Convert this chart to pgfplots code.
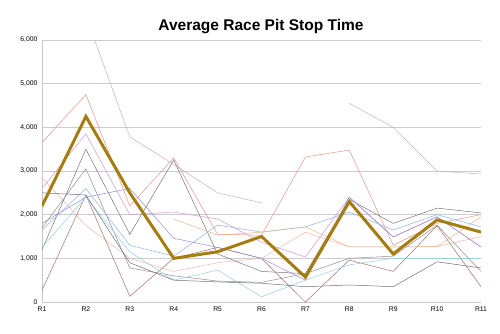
\documentclass[border=0pt]{standalone}
\usepackage{pgfplots}
\pgfplotsset{compat=1.18}
\usepackage{pgfplotstable}
\usepackage{fontspec}
\setmainfont{Liberation Sans}
\definecolor{gold}{RGB}{165,124,16}
\definecolor{cgrey}{RGB}{200,176,184}
\definecolor{cred}{RGB}{228,150,135}
\definecolor{csalmon}{RGB}{240,185,175}
\definecolor{cdark}{RGB}{120,120,120}
\definecolor{cdark2}{RGB}{150,140,140}
\definecolor{cbrown}{RGB}{170,110,100}
\definecolor{cviolet}{RGB}{210,150,220}
\definecolor{cpurple}{RGB}{150,140,225}
\definecolor{cblue}{RGB}{140,180,230}
\definecolor{clblue}{RGB}{150,205,230}
\definecolor{cslate}{RGB}{110,110,125}
\definecolor{ctan}{RGB}{225,185,140}
\pgfplotstableread{
x gold grey red salmon dk1 dk2 brown violet purple blue lblue slate tan
1 2200 nan 3650 2850 1200 1700 270 2600 1800 1650 1250 2500 nan
2 4250 6550 4750 1750 3500 3050 2450 3850 2400 2600 2400 2450 nan
3 2500 3780 2200 1000 1550 780 130 2000 2600 1300 1150 900 nan
4 1000 3150 3300 700 3250 600 1000 2060 1460 1050 500 500 1900
5 1150 2500 1550 900 1100 480 1250 1900 1250 1760 730 460 1530
6 1500 2270 1530 1000 700 450 1000 1370 1000 1600 120 430 1600
7 570 nan 3320 1600 650 650 0 1030 500 1720 500 350 1720
8 2300 4550 3480 1260 2350 1000 960 2400 2400 2060 850 390 1260
9 1100 4000 1300 1260 1800 1050 700 1490 1490 1650 1000 350 1260
10 1880 3000 1800 1270 2150 1760 1750 1950 1950 2000 1000 920 1270
11 1600 2930 2000 1500 2040 700 350 1260 1260 1720 1000 780 1950
}\data
\begin{document}
\begin{tikzpicture}
\begin{axis}[
  scale only axis, width=439pt, height=262pt,
  xmin=1, xmax=11, ymin=0, ymax=6000,
  xtick={1,...,11},
  xticklabels={R1,R2,R3,R4,R5,R6,R7,R8,R9,R10,R11},
  ytick={0,1000,...,6000},
  /pgf/number format/.cd, 1000 sep={,}, assume math mode=true,
  /pgfplots/.cd,
  ymajorgrids, grid style={draw=black!20, line width=0.7pt},
  axis x line*=bottom, axis y line*=left,
  axis line style={draw=black!22, line width=0.7pt},
  major tick length=0pt,
  tick label style={font=\fontsize{6.8}{8}\selectfont},
  xticklabel style={yshift=-1pt},
  yticklabel style={xshift=-1pt},
  unbounded coords=jump,
  every axis plot/.append style={line width=0.5pt, mark=none},
  clip=true,
]
\addplot[cgrey] table[y=grey]{\data};
\addplot[cred] table[y=red]{\data};
\addplot[csalmon] table[y=salmon]{\data};
\addplot[cdark] table[y=dk1]{\data};
\addplot[cdark2] table[y=dk2]{\data};
\addplot[cbrown] table[y=brown]{\data};
\addplot[cviolet] table[y=violet]{\data};
\addplot[cpurple] table[y=purple]{\data};
\addplot[cblue] table[y=blue]{\data};
\addplot[clblue] table[y=lblue]{\data};
\addplot[cslate] table[y=slate]{\data};
\addplot[ctan] table[y=tan]{\data};
\addplot[gold, line width=3pt, line join=miter] table[y=gold]{\data};
\end{axis}
\node[font=\bfseries\fontsize{15.5}{18}\selectfont, anchor=base] at (219pt,272pt) {Average Race Pit Stop Time};
\pgfresetboundingbox
\path[use as bounding box] (-42pt,-31pt) rectangle (458pt,302pt);
\end{tikzpicture}
\end{document}
